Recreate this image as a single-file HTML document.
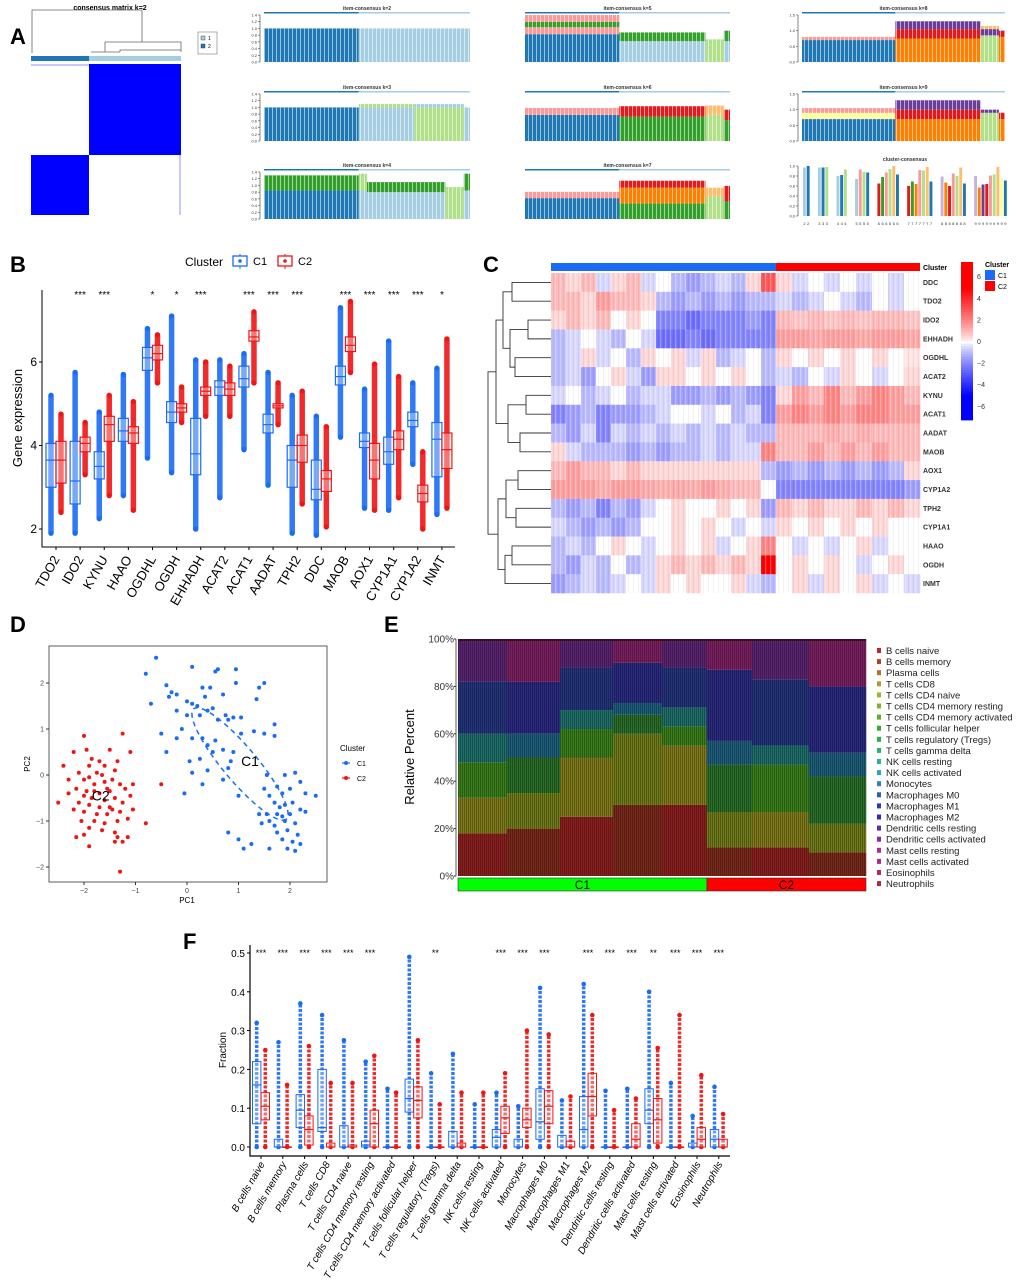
<!DOCTYPE html>
<html><head><meta charset="utf-8"><title>Figure</title>
<style>
html,body{margin:0;padding:0;background:#fff;}
svg{display:block;font-family:"Liberation Sans",Arial,sans-serif;}
</style></head>
<body>
<svg id="fig" width="1020" height="1283" viewBox="0 0 1020 1283" xmlns="http://www.w3.org/2000/svg">
<defs>
<pattern id="hmStripe" width="5" height="10" patternUnits="userSpaceOnUse"><rect x="0" y="0" width="1.2" height="10" fill="#fff" opacity="0.3"/><rect x="3" y="0" width="1" height="10" fill="#000" opacity="0.05"/></pattern>
<pattern id="eStripe" width="2" height="10" patternUnits="userSpaceOnUse"><rect x="0" y="0" width="0.6" height="10" fill="#000" opacity="0.45"/></pattern>
<pattern id="aStripe" width="4" height="10" patternUnits="userSpaceOnUse"><rect x="0" y="0" width="1" height="10" fill="#fff" opacity="0.55"/></pattern>
</defs>
<g id="panelA"></g>
<g id="panelB"></g>
<g id="panelC"></g>
<g id="panelD"></g>
<g id="panelE"></g>
<g id="panelF"></g>
</svg>
<script>
// ---------- Panel B data ----------
const bGenes = ["TDO2","IDO2","KYNU","HAAO","OGDHL","OGDH","EHHADH","ACAT2","ACAT1","AADAT","TPH2","DDC","MAOB","AOX1","CYP1A1","CYP1A2","INMT"];
const bSig = ["","***","***","","*","*","***","","***","***","***","","***","***","***","***","*"];
// [min,q1,median,q3,max]
const bC1 = [[1.9,3.0,3.65,4.05,5.2],[1.9,2.6,3.15,4.1,5.75],[2.25,3.2,3.5,3.85,4.8],[2.8,4.1,4.35,4.65,5.7],[3.7,5.8,6.1,6.35,6.8],[3.35,4.55,4.8,5.05,7.1],[2.0,3.3,3.8,4.65,6.05],[2.75,5.2,5.4,5.55,6.05],[3.9,5.4,5.6,5.9,6.2],[3.05,4.3,4.5,4.75,5.75],[1.9,3.0,3.65,4.0,5.2],[1.85,2.7,2.95,3.65,4.7],[4.2,5.45,5.65,5.9,7.3],[2.5,3.95,4.1,4.3,5.35],[2.45,3.55,3.85,4.2,6.5],[3.55,4.45,4.6,4.8,5.5],[2.35,3.25,4.15,4.55,5.85]];
const bC2 = [[2.4,3.1,3.65,4.1,4.75],[3.3,3.85,4.05,4.2,4.55],[2.8,4.1,4.5,4.7,5.2],[2.45,4.05,4.3,4.45,5.05],[5.5,6.05,6.2,6.4,6.65],[4.55,4.8,4.9,5.0,5.4],[4.7,5.2,5.3,5.4,6.0],[4.7,5.2,5.35,5.5,5.9],[5.5,6.5,6.6,6.75,7.2],[4.5,4.9,4.95,5.0,5.5],[2.6,3.6,4.0,4.25,5.3],[2.05,2.9,3.2,3.4,4.45],[5.75,6.25,6.4,6.6,7.45],[2.45,3.2,3.65,4.05,5.95],[2.75,3.9,4.15,4.35,5.65],[2.0,2.65,2.85,3.05,3.85],[2.5,3.45,3.9,4.3,6.55]];
const bTicks = [2,4,6];

// ---------- Panel C data ----------
const cRows = ["DDC","TDO2","IDO2","EHHADH","OGDHL","ACAT2","KYNU","ACAT1","AADAT","MAOB","AOX1","CYP1A2","TPH2","CYP1A1","HAAO","OGDH","INMT"];
const cC1 = [
[1,0.5,1,-0.5,0.5,1,-0.5,0,-1,-1.5,-1,-0.5,-1,0.5,3],
[1,1,0.5,1.5,1,1,0.5,-1,-1.5,-1,-1.5,-1,-1.5,-1,-1],
[0.5,1,0.5,1,0,0.5,0,-2,-2,-2.5,-2,-2,-2,-1.5,-2],
[-1,-0.5,0,-0.5,-1,0,-0.5,-2.5,-2.5,-2,-2.5,-2,-2,-2,-2],
[-1,-0.5,0.5,-0.5,0,-1,0.5,0,0.5,-0.5,0.5,-1,-0.5,0,-1],
[-1,-0.5,-1.5,0,0.5,-0.5,-1.5,0.5,0.5,0,0.5,0,0.5,0,-1],
[-0.5,0,-1,-0.5,0,-1,-0.5,-0.5,-1.5,-1.5,-1,-1.5,-1,-1.5,-2],
[-2,-1.5,-1,-2,-1.5,-1.5,-1,-0.5,0,0,-0.5,0,-1,-0.5,-2],
[-1,-1.5,-0.5,-2,-0.5,-1,-0.5,-1,-0.5,-1,-0.5,-1,-0.5,-1,-1],
[0.5,-0.5,-1,-1,-1,-1.5,-1,-1.5,-1,-1,-0.5,-1,-0.5,-0.5,2],
[1,1.5,1,1,0.5,1,0.5,0.5,0.5,0.5,0.5,0.5,0.5,0.5,-1],
[1.5,1.5,1.5,1.2,1.5,1.5,1.3,1.2,1.3,1.2,1.5,1.2,1,1,0],
[-1,-1.5,-1,-2,-1,-1.5,-0.5,0,0.5,0,0,0.5,0,0.5,-1.5],
[-0.5,-1,-1.5,-1,-1.5,-1,0,0,0.5,0,0.5,0,-0.5,0,-0.5],
[-1,-0.5,-1,0,0.5,0,-0.5,0,0.5,0,0.5,-0.5,0,0.5,2],
[-1,-1.5,-0.5,-1,0,-1,-0.5,0.5,1,0.5,1,0.5,1,0.5,6],
[-1.5,-1,-0.5,-1,-0.5,0,-0.5,0.5,0,0.5,0,0,0.5,-0.5,-1]];
const cC2 = [
[0.5,-0.5,0,-0.5,0,-0.5,0,-0.5,0],
[-0.5,-1,-0.5,0,-0.5,-1,0,-0.5,0],
[1,0.8,1,0.8,1,0.8,1,1,0.8],
[1.5,1.5,1.3,1.5,1.5,1.3,1.5,1.5,1.3],
[0.5,0,0.5,0,0.5,0,0.5,0,0.3],
[-0.5,-1,0,-0.5,0.5,0,-0.5,0,0.5],
[0.5,1.5,1,2,1,1.5,2,1.5,1],
[1.5,2,1.5,2,1.5,2,2,1.5,1.5],
[1,1,1,1.2,1,1.2,1,1,1],
[1,1,1.5,1,1.5,1,1.5,1,1],
[-1.5,-1,-1.5,-1,-1.5,-1,-1.5,-1,0.5],
[-2,-2,-2,-2,-2,-2,-2,-2,-1.5],
[1,0.5,1,0.5,0.5,1,0.5,1,0.5],
[0.5,0,0.5,0,0.5,0,0.5,0,0],
[0,-0.5,0,-0.5,0,0.5,-0.5,0,0],
[0,0.5,0,0.5,0,-0.5,0,0.5,0],
[0,0.5,-0.5,0.5,0,0.5,-0.5,0,-0.5]];
const cScaleTicks = [6,4,2,0,-2,-4,-6];

// ---------- Panel D data ----------
const dC1x = [-0.6,-0.8,0.1,0.6,0.95,0.55,-0.4,-0.3,0.45,0.3,0.95,1.5,-0.35,-0.2,0,0.1,0.35,0.7,1.4,1.35,-0.7,-0.2,0.2,0.4,0.5,0.8,0.6,0.25,-0.1,0,0.75,0.9,1.05,-0.5,-0.2,0.1,0.3,0.4,0.55,1.05,1.3,1.7,1.5,1.7,-0.4,0.05,0.25,0.5,0.7,0.85,0.9,0.1,0.4,0.3,0.7,0.8,1.55,1.9,2.1,2.2,1.75,1.85,2.0,2.3,2.5,1.6,1.7,1.8,1.9,2.05,2.2,1.4,1.55,1.75,1.85,2.0,2.3,1.6,1.7,1.9,2.1,1.75,1.95,2.15,1.85,2.05,2.2,1.6,1.95,2.1,0.8,1.0,1.1,1.25,1.0,-0.05,1.5,1.45];
const dC1y = [2.55,2.2,2.35,2.3,2.3,2.25,1.95,1.8,1.9,1.9,2.0,2.0,1.7,1.75,1.6,1.55,1.7,1.75,1.9,1.65,1.55,1.4,1.5,1.4,1.45,1.2,1.2,1.3,1.0,1.3,1.3,1.25,1.25,0.9,0.8,0.8,0.8,0.65,0.75,0.9,0.95,1.1,0.9,0.85,0.5,0.3,0.35,0.5,0.55,0.3,0.5,0.05,0.1,-0.2,-0.1,0.15,0,0,0.05,-0.15,-0.25,-0.4,-0.3,-0.4,-0.45,-0.45,-0.6,-0.7,-0.65,-0.6,-0.75,-0.85,-0.85,-0.85,-0.9,-0.85,-0.8,-1.0,-1.1,-1.0,-1.05,-1.25,-1.2,-1.3,-1.4,-1.45,-1.5,-1.6,-1.6,-1.65,-1.25,-1.4,-1.6,-1.5,-0.45,-0.4,-0.3,-1.05];
const dC2x = [-1.25,-2.0,-1.95,-1.5,-1.1,-1.7,-1.85,-2.4,-1.9,-1.6,-1.4,-2.1,-1.75,-1.45,-2.0,-1.8,-1.6,-1.3,-1.05,-2.15,-1.95,-1.7,-1.5,-1.2,-2.3,-1.85,-1.6,-1.4,-1.1,-0.5,-2.1,-1.9,-1.7,-1.5,-1.25,-2.5,-2.2,-2.0,-1.75,-1.55,-1.3,-1.05,-2.05,-1.8,-1.6,-1.35,-0.8,-1.9,-1.65,-1.4,-2.15,-2.0,-1.35,-1.15,-1.4,-1.9,-1.25,-1.3,-2.2,-1.55,-1.8,-2.0,-1.45,-1.65,-1.9,-1.35,-2.3,-1.15];
const dC2y = [0.9,0.85,0.55,0.55,0.5,0.3,0.35,0.2,0.2,0.2,0.1,0.05,0.05,-0.1,-0.1,-0.2,-0.15,-0.2,-0.2,-0.3,-0.35,-0.4,-0.35,-0.3,-0.4,-0.5,-0.55,-0.5,-0.45,-0.2,-0.6,-0.65,-0.7,-0.7,-0.6,-0.6,-0.75,-0.8,-0.85,-0.85,-0.8,-0.75,-1.0,-1.0,-1.05,-1.0,-1.05,-1.15,-1.2,-1.25,-1.35,-1.3,-1.35,-1.35,-1.45,-1.55,-1.45,-2.1,0.5,-0.3,-0.35,-0.45,-0.75,0.0,-0.05,0.3,-0.1,-0.95];
const dXTicks = [-2,-1,0,1,2];
const dYTicks = [-2,-1,0,1,2];

// ---------- Panel E data ----------
const eTypes = ["B cells naive","B cells memory","Plasma cells","T cells CD8","T cells CD4 naive","T cells CD4 memory resting","T cells CD4 memory activated","T cells follicular helper","T cells regulatory (Tregs)","T cells gamma delta","NK cells resting","NK cells activated","Monocytes","Macrophages M0","Macrophages M1","Macrophages M2","Dendritic cells resting","Dendritic cells activated","Mast cells resting","Mast cells activated","Eosinophils","Neutrophils"];
const eSegEdges = [0,0.12,0.25,0.38,0.5,0.61,0.72,0.86,1.0];
const eBlineage = [18,20,25,30,30,12,12,10];
const eTcd8Naive = [15,15,25,30,25,15,15,12];
const eTmemory = [15,15,12,8,8,20,20,20];
const eNKMono = [12,10,8,5,8,10,8,10];
const eMacro = [22,22,18,17,17,30,28,28];
const eMyeloid = [18,18,12,10,12,13,17,20];
const eC1Frac = 0.61;
const eYTicks = [0,20,40,60,80,100];

// ---------- Panel F data ----------
const fCells = ["B cells naive","B cells memory","Plasma cells","T cells CD8","T cells CD4 naive","T cells CD4 memory resting","T cells CD4 memory activated","T cells follicular helper","T cells regulatory (Tregs)","T cells gamma delta","NK cells resting","NK cells activated","Monocytes","Macrophages M0","Macrophages M1","Macrophages M2","Dendritic cells resting","Dendritic cells activated","Mast cells resting","Mast cells activated","Eosinophils","Neutrophils"];
const fSig = ["***","***","***","***","***","***","","","**","","","***","***","***","","***","***","***","**","***","***","***"];
// [q1,median,q3,max]
const fC1 = [[0.06,0.16,0.22,0.32],[0,0,0.02,0.27],[0.05,0.095,0.135,0.37],[0.04,0.05,0.2,0.34],[0,0,0.055,0.275],[0,0.005,0.015,0.22],[0,0,0,0.15],[0.09,0.125,0.175,0.49],[0,0,0,0.19],[0,0,0.04,0.24],[0,0,0,0.11],[0,0.025,0.045,0.14],[0,0,0.02,0.105],[0.02,0.065,0.15,0.41],[0,0,0.03,0.12],[0,0.045,0.13,0.42],[0,0,0,0.145],[0,0,0,0.15],[0.06,0.095,0.15,0.4],[0,0,0,0.165],[0,0,0.01,0.08],[0,0.02,0.045,0.155]];
const fC2 = [[0.07,0.105,0.14,0.25],[0,0,0,0.16],[0.005,0.045,0.08,0.26],[0,0,0.01,0.165],[0,0,0.005,0.165],[0,0.06,0.095,0.235],[0,0,0,0.14],[0.075,0.12,0.155,0.275],[0,0,0,0.11],[0,0,0.01,0.14],[0,0,0,0.14],[0.035,0.075,0.105,0.19],[0.05,0.07,0.1,0.3],[0.06,0.105,0.145,0.29],[0,0,0.015,0.13],[0.08,0.13,0.19,0.34],[0,0,0,0.095],[0,0.02,0.06,0.125],[0.01,0.07,0.125,0.255],[0,0,0,0.34],[0,0.02,0.05,0.185],[0,0,0.02,0.085]];
const fTicks = [0,0.1,0.2,0.3,0.4,0.5];

// ---------- Panel A data ----------
const aClusterK = [2,3,4,5,6,7,8,9];
const aCCvals = [[0.97,1.0],[0.97,0.97,0.98],[0.8,0.82,0.93],[0.74,0.93,0.88,0.87],[0.65,0.78,0.87,0.94,1.0,0.83],[0.6,0.69,0.64,0.92,0.91,0.98,0.69],[0.79,0.67,0.6,0.85,0.8,0.97,0.65],[0.8,0.57,0.63,0.64,0.81,0.83,0.98,0.75,0.71]];
const aCCcols = [["#a6cee3","#1f78b4"],["#a6cee3","#1f78b4","#b2df8a"],["#a6cee3","#1f78b4","#b2df8a"],["#a6cee3","#fb9a99","#b2df8a","#1f78b4"],["#e31a1c","#33a02c","#fb9a99","#b2df8a","#fdbf6f","#1f78b4"],["#e31a1c","#33a02c","#ff7f00","#fb9a99","#b2df8a","#fdbf6f","#1f78b4"],["#cab2d6","#ff7f00","#e31a1c","#fb9a99","#b2df8a","#fdbf6f","#1f78b4"],["#cab2d6","#ff7f00","#6a3d9a","#e31a1c","#fb9a99","#b2df8a","#fdbf6f","#ffff99","#1f78b4"]];
const aItem = {
 2:[[0,0.46,[["#1f78b4",1.0]]],[0.46,1,[["#a6cee3",1.0]]]],
 3:[[0,0.46,[["#1f78b4",1.0]]],[0.46,0.73,[["#a6cee3",1.0],["#b2df8a",1.1]]],[0.73,0.97,[["#b2df8a",1.0],["#a6cee3",1.1]]],[0.97,1,[["#a6cee3",1.0]]]],
 4:[[0,0.46,[["#1f78b4",0.85],["#33a02c",1.3]]],[0.46,0.5,[["#a6cee3",0.85],["#b2df8a",1.35]]],[0.5,0.88,[["#a6cee3",0.8],["#33a02c",1.1]]],[0.88,0.97,[["#b2df8a",0.95]]],[0.97,1,[["#a6cee3",0.85],["#33a02c",1.35]]]],
 5:[[0,0.46,[["#1f78b4",0.8],["#fb9a99",1.0],["#33a02c",1.15],["#fb9a99",1.35]]],[0.46,0.88,[["#a6cee3",0.6],["#33a02c",0.85]]],[0.88,0.97,[["#b2df8a",0.65]]],[0.97,1,[["#a6cee3",0.6],["#33a02c",0.9]]]],
 6:[[0,0.46,[["#1f78b4",0.75],["#fb9a99",0.95]]],[0.46,0.88,[["#33a02c",0.7],["#e31a1c",1.0]]],[0.88,0.97,[["#b2df8a",0.75],["#fdbf6f",1.02]]],[0.97,1,[["#33a02c",0.6],["#e31a1c",0.9]]]],
 7:[[0,0.46,[["#1f78b4",0.6],["#fb9a99",0.78]]],[0.46,0.88,[["#33a02c",0.45],["#ff7f00",0.9],["#e31a1c",1.1]]],[0.88,0.97,[["#b2df8a",0.65],["#fdbf6f",0.9]]],[0.97,1,[["#33a02c",0.5],["#e31a1c",0.95]]]],
 8:[[0,0.46,[["#1f78b4",0.7],["#fb9a99",0.8]]],[0.46,0.88,[["#ff7f00",0.75],["#e31a1c",1.05],["#6a3d9a",1.3]]],[0.88,0.97,[["#b2df8a",0.85],["#6a3d9a",1.05],["#fdbf6f",1.15]]],[0.97,1,[["#ff7f00",0.8],["#e31a1c",1.0]]]],
 9:[[0,0.46,[["#1f78b4",0.7],["#ffff99",0.9],["#fb9a99",1.05]]],[0.46,0.88,[["#ff7f00",0.7],["#e31a1c",1.0],["#6a3d9a",1.3]]],[0.88,0.97,[["#b2df8a",0.9],["#6a3d9a",1.0]]],[0.97,1,[["#ff7f00",0.7],["#e31a1c",0.9]]]]
};

const NS="http://www.w3.org/2000/svg";
function el(tag, attrs, parent){const e=document.createElementNS(NS,tag);for(const k in attrs)e.setAttribute(k,attrs[k]);if(parent)parent.appendChild(e);return e;}
function txt(parent, x, y, s, attrs){const t=el("text",Object.assign({x:x,y:y},attrs||{}),parent);t.textContent=s;return t;}

// ================= PANEL A =================
(function(){
 const g=document.getElementById("panelA");
 const L=txt(g,10,44,"A",{"font-size":"22","font-weight":"bold"});
 
 
 const t=txt(g,110,10,"consensus matrix k=2",{"font-size":"7","font-weight":"bold","text-anchor":"middle"});
 
 
 const dg=el("path",{d:"M32,53 V10 H142 V42 M105,42 H181 V52 M105,42 V52 M91,52 H120 M120,52 V50 H181",fill:"none",stroke:"#666","stroke-width":"0.8"},g);
 
 
 const cb1=el("rect",{x:31,y:56,width:58,height:5,fill:"#1f78b4"},g);
 
 
 const cb2=el("rect",{x:89,y:56,width:92,height:5,fill:"#a6cee3"},g);
 
 
 el("rect",{x:31,y:64,width:58,height:2,fill:"#c8c8ff"},g);
 const m1=el("rect",{x:89,y:64,width:92,height:91,fill:"#0000ff"},g);
 
 
 const m2=el("rect",{x:31,y:155,width:58,height:60,fill:"#0000ff"},g);
 
 
 el("rect",{x:179,y:155,width:2,height:60,fill:"#c8c8ff"},g);
 const lg=el("g",{},g);
 
 
 el("rect",{x:198,y:32,width:19,height:22,fill:"#fff",stroke:"#777","stroke-width":"0.6"},lg);
 el("rect",{x:201,y:36,width:4,height:4,fill:"#a6cee3",stroke:"#333","stroke-width":"0.4"},lg);
 el("rect",{x:201,y:44,width:4,height:4,fill:"#1f78b4",stroke:"#333","stroke-width":"0.4"},lg);
 txt(lg,208,40,"1",{"font-size":"5"}); txt(lg,208,48,"2",{"font-size":"5"});

 const cols=[264,525,802], colW=[206,205,203];
 const rowsBot=[62,141,219], rowsTop=[15,94,172];
 const ks=[[2,3,4],[5,6,7],[8,9,null]];
 for(let c=0;c<3;c++)for(let r=0;r<3;r++){
  const k=ks[c][r]; const x0=cols[c], w=colW[c], yb=rowsBot[r], yt=rowsTop[r];
  if(k===null)continue;
  const sg=el("g",{},g);
  
  
  const maxv = c===2?1.5:(c===1?1.35:1.4);
  const ys=v=>yb-(v/maxv)*(yb-yt);
  txt(sg,x0+w/2,rowsTop[r]-5,"item-consensus k="+k,{"font-size":"5","font-weight":"bold","text-anchor":"middle","fill":"#333"});
  el("rect",{x:x0,y:rowsTop[r]-3,width:w*0.46,height:1.5,fill:"#1f78b4"},sg);
  el("rect",{x:x0+w*0.46,y:rowsTop[r]-3,width:w*0.54,height:1.5,fill:"#a6cee3"},sg);
  aItem[k].forEach(reg=>{
   let prev=0;
   reg[2].forEach(layer=>{
    el("rect",{x:x0+reg[0]*w,y:ys(layer[1]),width:(reg[1]-reg[0])*w,height:ys(prev)-ys(layer[1]),fill:layer[0]},sg);
    prev=layer[1];
   });
  });
  el("rect",{x:x0,y:yt,width:w,height:yb-yt,fill:"url(#aStripe)"},sg);
  if(c!==1){
   const ax=x0-4;
   el("line",{x1:ax,y1:ys(0),x2:ax,y2:ys(maxv),stroke:"#333","stroke-width":"0.6"},sg);
   const tks = c===0?[0,0.2,0.4,0.6,0.8,1.0,1.2,1.4]:[0,0.5,1.0,1.5];
   tks.forEach(v=>{el("line",{x1:ax-2,y1:ys(v),x2:ax,y2:ys(v),stroke:"#333","stroke-width":"0.5"},sg);
    txt(sg,ax-3,ys(v)+1.5,v.toFixed(1),{"font-size":"4","text-anchor":"end","fill":"#333"});});
  }
 }
 const cg=el("g",{},g);
 
 
 const yb=216, yt=166, ys=v=>yb-v*(yb-yt);
 txt(cg,905,161,"cluster-consensus",{"font-size":"5","font-weight":"bold","text-anchor":"middle","fill":"#333"});
 el("line",{x1:798,y1:ys(0),x2:798,y2:ys(1),stroke:"#333","stroke-width":"0.6"},cg);
 [0,0.2,0.4,0.6,0.8,1.0].forEach(v=>{el("line",{x1:796,y1:ys(v),x2:798,y2:ys(v),stroke:"#333","stroke-width":"0.5"},cg);
  txt(cg,795,ys(v)+1.5,v.toFixed(1),{"font-size":"4","text-anchor":"end","fill":"#333"});});
 let u=0; const unit=3.72, bx0=803;
 aCCvals.forEach((grp,gi)=>{
  grp.forEach((v,bi)=>{
   const bx=bx0+u*unit;
   const b=el("rect",{x:bx,y:ys(v),width:unit-0.8,height:ys(0)-ys(v),fill:aCCcols[gi][bi]},cg);
   
   
   txt(cg,bx+1.5,225,String(aClusterK[gi]),{"font-size":"4","text-anchor":"middle","fill":"#333"});
   u++;
  });
  u+=2;
 });
})();

// ================= PANEL B =================
(function(){
 const g=document.getElementById("panelB");
 const L=txt(g,10,272,"B",{"font-size":"22","font-weight":"bold"});
 
 
 const x0=42, xr=455, yb=547;
 const ys=v=>529-(v-2)*41.75;
 const xs=i=>56+i*24.12;
 const lg=el("g",{},g);
 
 
 txt(lg,185,266,"Cluster",{"font-size":"12"});
 [[233,"C1"],[278,"C2"]].forEach(d=>{
  const c=d[1]=="C1"?"#1a6cf5":"#f01515";
  el("line",{x1:d[0]+7,y1:254,x2:d[0]+7,y2:269,stroke:c,"stroke-width":"1"},lg);
  el("rect",{x:d[0],y:256,width:14,height:10,fill:"#fff",stroke:c,"stroke-width":"1.3"},lg);
  el("circle",{cx:d[0]+7,cy:261,r:1.8,fill:c},lg);
  txt(lg,d[0]+20,265,d[1],{"font-size":"11"});
 });
 const ax=el("path",{d:`M${x0},290 V${yb} H${xr}`,fill:"none",stroke:"#000","stroke-width":"1"},g);
 
 
 bTicks.forEach(v=>{el("line",{x1:x0-3,y1:ys(v),x2:x0,y2:ys(v),stroke:"#000"},g);
  const t=txt(g,x0-5,ys(v)+4,String(v),{"font-size":"12","text-anchor":"end"});
  
  });
 const yt=txt(g,0,0,"Gene expression",{"font-size":"13","text-anchor":"middle",transform:"translate(22,418) rotate(-90)"});
 
 
 bGenes.forEach((gn,i)=>{
  const cx=xs(i);
  el("line",{x1:cx,y1:yb,x2:cx,y2:yb+3,stroke:"#000"},g);
  const lt=txt(g,0,0,gn,{"font-size":"13","text-anchor":"end",transform:`translate(${cx+4},${yb+12}) rotate(-60)`});
  
  
  if(bSig[i]){const st=txt(g,cx,298,bSig[i],{"font-size":"10","text-anchor":"middle"});
   
   }
  [[bC1[i],-5,"#1a6cf5"],[bC2[i],5,"#f01515"]].forEach(d=>{
   const s=d[0], bx=cx+d[1], col=d[2];
   const bg=el("g",{},g);
   
   
   el("line",{x1:bx,y1:ys(s[0]),x2:bx,y2:ys(s[4]),stroke:col,"stroke-width":"5.5","stroke-linecap":"round",opacity:"0.9"},bg);
   el("rect",{x:bx-5,y:ys(s[3]),width:10,height:ys(s[1])-ys(s[3]),fill:"#fff","fill-opacity":"0.35",stroke:col,"stroke-width":"1.2"},bg);
   el("line",{x1:bx-5,y1:ys(s[2]),x2:bx+5,y2:ys(s[2]),stroke:col,"stroke-width":"1.2"},bg);
   el("circle",{cx:bx,cy:ys(s[4]),r:2.5,fill:col},bg);
   el("circle",{cx:bx,cy:ys(s[0]),r:2.5,fill:col},bg);
  });
 });
})();

// ================= PANEL C =================
(function(){
 const g=document.getElementById("panelC");
 const L=txt(g,483,272,"C",{"font-size":"22","font-weight":"bold"});
 
 
 const x0=551, xm=776, x1=920, y0=273, rh=(593-273)/17;
 function col(v){const t=Math.min(1,Math.pow(Math.abs(v)/5,0.8));const a=Math.round(255*(1-t));return v>=0?`rgb(255,${a},${a})`:`rgb(${a},${a},255)`;}
 const cb1=el("rect",{x:x0,y:263,width:xm-x0,height:8,fill:"#1a6cf5"},g);
 
 
 const cb2=el("rect",{x:xm,y:263,width:x1-xm,height:8,fill:"#ff0000"},g);
 
 
 txt(g,923,270,"Cluster",{"font-size":"7","font-weight":"bold"});
 const hm=el("g",{},g);
 
 
 cRows.forEach((r,i)=>{
  const y=y0+i*rh;
  const w1=(xm-x0)/cC1[i].length, w2=(x1-xm)/cC2[i].length;
  cC1[i].forEach((v,j)=>{const c=el("rect",{x:x0+j*w1,y:y,width:w1+0.3,height:rh+0.3,fill:col(v)},hm);
   
   });
  cC2[i].forEach((v,j)=>{const c=el("rect",{x:xm+j*w2,y:y,width:w2+0.3,height:rh+0.3,fill:col(v)},hm);
   
   });
  const lt=txt(g,923,y+rh/2+2.5,r,{"font-size":"7","font-weight":"bold","fill":"#333"});
  
  
 });
 el("rect",{x:x0,y:y0,width:x1-x0,height:593-y0,fill:"url(#hmStripe)"},hm);
 const nodes=[]; cRows.forEach((r,i)=>nodes.push({x:x0,y:y0+(i+0.5)*rh}));
 const merges=[[2,3,528],[6,7,526],[4,5,515],[17,19,510],[0,1,512],[21,20,503],[8,9,520],[18,23,508],[22,24,496],[10,11,518],[12,13,516],[26,27,506],[14,15,512],[29,16,505],[28,30,498],[25,31,488]];
 let d="";
 merges.forEach(m=>{const a=nodes[m[0]],b=nodes[m[1]];d+=`M${a.x},${a.y} H${m[2]} V${b.y} H${b.x} `;nodes.push({x:m[2],y:(a.y+b.y)/2});});
 const dp=el("path",{d:d,fill:"none",stroke:"#333","stroke-width":"0.9"},g);
 
 
 const sg=el("g",{},g);
 
 
 const cy=v=>341-v*10.8;
 for(let k=0;k<60;k++){const v=7.3-k*14.6/60;el("rect",{x:961,y:262+k*158/60,width:12,height:158/60+0.4,fill:col(v)},sg);}
 cScaleTicks.forEach(v=>txt(sg,977,cy(v)+3,String(v).replace("-","−"),{"font-size":"7","fill":"#333"}));
 txt(sg,985,267,"Cluster",{"font-size":"7","font-weight":"bold"});
 el("rect",{x:985,y:270,width:10,height:10,fill:"#1a6cf5"},sg);
 el("rect",{x:985,y:281,width:10,height:10,fill:"#ff0000"},sg);
 txt(sg,998,278,"C1",{"font-size":"7"}); txt(sg,998,289,"C2",{"font-size":"7"});
})();

// ================= PANEL D =================
(function(){
 const g=document.getElementById("panelD");
 const L=txt(g,10,632,"D",{"font-size":"22","font-weight":"bold"});
 
 
 const xs=v=>187+v*51.5, ys=v=>775-v*46;
 const fr=el("rect",{x:49,y:646,width:278,height:236,fill:"#fff",stroke:"#333","stroke-width":"0.8"},g);
 
 
 dXTicks.forEach(v=>{el("line",{x1:xs(v),y1:882,x2:xs(v),y2:885,stroke:"#333"},g);
  txt(g,xs(v),893,String(v).replace("-","−"),{"font-size":"7","text-anchor":"middle","fill":"#444"});});
 dYTicks.forEach(v=>{el("line",{x1:46,y1:ys(v),x2:49,y2:ys(v),stroke:"#333"},g);
  txt(g,44,ys(v)+2.5,String(v).replace("-","−"),{"font-size":"7","text-anchor":"end","fill":"#444"});});
 txt(g,187,903,"PC1",{"font-size":"8","text-anchor":"middle"});
 txt(g,0,0,"PC2",{"font-size":"8","text-anchor":"middle",transform:"translate(30,764) rotate(-90)"});
 dC1x.forEach((v,i)=>{const c=el("circle",{cx:xs(v),cy:ys(dC1y[i]),r:2,fill:"#1a6cf5"},g);
  
  });
 dC2x.forEach((v,i)=>{const c=el("circle",{cx:xs(v),cy:ys(dC2y[i]),r:2,fill:"#f01515"},g);
  
  });
 const ell=el("ellipse",{cx:240,cy:764,rx:72,ry:17,fill:"none",stroke:"#1a6cf5","stroke-width":"1.5","stroke-dasharray":"5,4",transform:"rotate(50 240 764)"},g);
 
 
 txt(g,xs(1.05),ys(0.2),"C1",{"font-size":"14"});
 txt(g,xs(-1.85),ys(-0.55),"C2",{"font-size":"14"});
 const lg=el("g",{},g);
 
 
 txt(lg,340,751,"Cluster",{"font-size":"8"});
 el("line",{x1:342,y1:763,x2:350,y2:763,stroke:"#1a6cf5","stroke-width":"1.2"},lg);
 el("circle",{cx:346,cy:763,r:2,fill:"#1a6cf5"},lg);
 txt(lg,357,766,"C1",{"font-size":"7"});
 el("line",{x1:342,y1:778,x2:350,y2:778,stroke:"#f01515","stroke-width":"1.2"},lg);
 el("circle",{cx:346,cy:778,r:2,fill:"#f01515"},lg);
 txt(lg,357,781,"C2",{"font-size":"7"});
})();

// ================= PANEL E =================
(function(){
 const g=document.getElementById("panelE");
 const L=txt(g,384,632,"E",{"font-size":"22","font-weight":"bold"});
 
 
 const x0=458, x1=866, yb=876, yt=639;
 const xs=f=>x0+f*(x1-x0), ys=p=>yb-p/100*(yb-yt);
 const groups=[eBlineage,eTcd8Naive,eTmemory,eNKMono,eMacro,eMyeloid];
 const gcols=[["#8a1f1f","#7a2a1a"],["#7f7a1c","#6f7a1a"],["#3a7d1c","#2a6e2a"],["#1f6e6a","#1f5e7a"],["#24347a","#2a2a80"],["#5a2470","#7a2060"]];
 const sg=el("g",{},g);
 
 
 for(let s=0;s<eSegEdges.length-1;s++){
  let cum=0;
  groups.forEach((arr,gi)=>{
   const r=el("rect",{x:xs(eSegEdges[s]),y:ys(cum+arr[s]),width:xs(eSegEdges[s+1])-xs(eSegEdges[s])+0.3,height:ys(cum)-ys(cum+arr[s]),fill:gcols[gi][s%2]},sg);
   
   
   cum+=arr[s];
  });
 }
 el("rect",{x:x0,y:yt,width:x1-x0,height:yb-yt,fill:"url(#eStripe)"},sg);
 el("rect",{x:x0,y:yt,width:x1-x0,height:2,fill:"#3a1020"},sg);
 el("line",{x1:x0-2,y1:yt,x2:x0-2,y2:yb,stroke:"#333","stroke-width":"0.8"},g);
 eYTicks.forEach(v=>{el("line",{x1:x0-4,y1:ys(v),x2:x0-2,y2:ys(v),stroke:"#333"},g);
  txt(g,x0-4,ys(v)+3.5,v+"%",{"font-size":"10","text-anchor":"end","fill":"#333"});});
 const yt2=txt(g,0,0,"Relative Percent",{"font-size":"13","text-anchor":"middle",transform:"translate(414,757) rotate(-90)"});
 
 
 const c1=el("rect",{x:x0,y:878,width:xs(eC1Frac)-x0,height:13,fill:"#00ff00",stroke:"#333","stroke-width":"0.6"},g);
 
 
 const c2=el("rect",{x:xs(eC1Frac),y:878,width:x1-xs(eC1Frac),height:13,fill:"#ff0000",stroke:"#333","stroke-width":"0.6"},g);
 
 
 txt(g,(x0+xs(eC1Frac))/2,889,"C1",{"font-size":"12","text-anchor":"middle"});
 txt(g,(xs(eC1Frac)+x1)/2,889,"C2",{"font-size":"12","text-anchor":"middle"});
 const lcols=["#b52a2a","#b5402a","#b5702a","#b59a2a","#a8b02a","#86b02a","#5ab02a","#2ab02a","#2ab04a","#2ab07a","#2ab0a0","#2aa8b0","#2a88b0","#2a60b0","#2a3ab0","#3a2ab0","#602ab0","#882ab0","#b02aa8","#b02a88","#b02a60","#b02a3a"];
 eTypes.forEach((t,i)=>{
  const y=651+i*11.1;
  const lg=el("g",{},g);
  
  
  el("rect",{x:877,y:y-3,width:4,height:5,fill:lcols[i]},lg);
  txt(lg,886,y+3,t,{"font-size":"9.5","fill":"#222"});
 });
})();

// ================= PANEL F =================
(function(){
 const g=document.getElementById("panelF");
 const L=txt(g,183,949,"F",{"font-size":"22","font-weight":"bold"});
 
 
 const x0=250, xr=730, yb=1156;
 const ys=v=>1147-v*388, xs=i=>261+i*21.8;
 const ax=el("path",{d:`M${x0},945 V${yb} H${xr}`,fill:"none",stroke:"#000","stroke-width":"1.2"},g);
 
 
 fTicks.forEach(v=>{el("line",{x1:x0-3,y1:ys(v),x2:x0,y2:ys(v),stroke:"#000"},g);
  txt(g,x0-5,ys(v)+4,v.toFixed(1),{"font-size":"10","text-anchor":"end"});});
 const yt=txt(g,0,0,"Fraction",{"font-size":"10","text-anchor":"middle",transform:"translate(226,1050) rotate(-90)"});
 
 
 fCells.forEach((c,i)=>{
  const cx=xs(i);
  el("line",{x1:cx,y1:yb,x2:cx,y2:yb+3,stroke:"#000"},g);
  const lt=txt(g,0,0,c,{"font-size":"10","font-style":"italic","text-anchor":"end",transform:`translate(${cx+4},${yb+8}) rotate(-60)`});
  
  
  if(fSig[i]){const st=txt(g,cx,956,fSig[i],{"font-size":"9","text-anchor":"middle"});
   
   }
  [[fC1[i],-4.3,"#1a6cf5"],[fC2[i],4.3,"#f01515"]].forEach(d=>{
   const s=d[0], bx=cx+d[1], col=d[2];
   const bg=el("g",{},g);
   
   
   el("line",{x1:bx,y1:ys(0),x2:bx,y2:ys(s[3]),stroke:col,"stroke-width":"3.5","stroke-dasharray":"3,1.5",opacity:"0.9"},bg);
   el("circle",{cx:bx,cy:ys(s[3]),r:2.3,fill:col},bg);
   el("circle",{cx:bx,cy:ys(0),r:2.3,fill:col},bg);
   el("rect",{x:bx-4.2,y:ys(s[2]),width:8.4,height:Math.max(0.5,ys(s[0])-ys(s[2])),fill:"#fff","fill-opacity":"0.3",stroke:col,"stroke-width":"1"},bg);
   el("line",{x1:bx-4.2,y1:ys(s[1]),x2:bx+4.2,y2:ys(s[1]),stroke:col,"stroke-width":"1.2"},bg);
  });
 });
})();
</script>
</body></html>
